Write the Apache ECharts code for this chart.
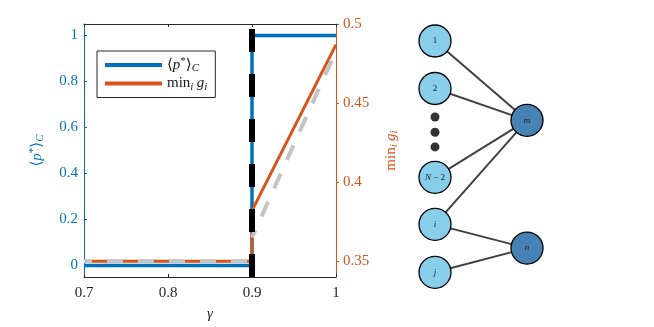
<!DOCTYPE html>
<html>
<head>
<meta charset="utf-8">
<script src="https://cdn.jsdelivr.net/npm/echarts@6/dist/echarts.min.js"></script>
<style>
  html, body { margin: 0; padding: 0; background: #fff; }
  #chart { width: 654px; height: 327px; }
</style>
</head>
<body>
<div id="chart"></div>
<script>
// left panel: step curves vs gamma
const blueX = [0.7, 0.9, 0.9, 1.0];
const blueY = [0, 0, 1, 1];
const orangeX = [0.7, 0.9, 0.9, 1.0];
const orangeY = [0.35, 0.35, 0.382, 0.487];
// gray bound: breaks at 0.9 (no vertical piece)
const grayX = [0.7, 0.9, 0.9, 0.9, 1.0];
const grayY = [0.35, 0.35, "-", 0.365, 0.483];
const critX = [0.9, 0.9];
const critY = [-0.05, 1.05];

const xTicks = [0.7, 0.8, 0.9, 1];
const leftTicks = [0, 0.2, 0.4, 0.6, 0.8, 1];
const rightTicks = [0.35, 0.4, 0.45, 0.5];

// right panel: bipartite sketch (column, row)
const nodeNames = ["1", "2", "N-2", "i", "j", "m", "n"];
const nodeCol = [0, 0, 0, 0, 0, 1, 1];
const nodeRow = [0, 1, 2.87, 3.86, 4.87, 1.67, 4.36];
const nodeDark = [false, false, false, false, false, true, true];
const edges = [["1", "m"], ["2", "m"], ["N-2", "m"], ["i", "m"], ["i", "n"], ["j", "n"]];
const dotRows = [1.6, 1.92, 2.23];

const BLUE = "#0072BD";
const ORANGE = "#D95319";
const SERIF = "'Liberation Serif', 'DejaVu Serif', serif";

function pts(xs, ys) {
  return xs.map((x, i) => [x, ys[i]]);
}

const nodeLabels = {
  "1": "{u|1}",
  "2": "{u|2}",
  "N-2": "{it|N}{u| − 2}",
  "i": "{it|i}",
  "j": "{it|j}",
  "m": "{it|m}",
  "n": "{it|n}"
};

const labelRich = {
  u: { fontFamily: SERIF, fontSize: 9, color: "#1a1a1a" },
  it: { fontFamily: SERIF, fontSize: 9, fontStyle: "italic", color: "#1a1a1a" }
};

const mathRich = function (color, size) {
  return {
    a: { fontFamily: SERIF, fontSize: size, color: color, lineHeight: 18 },
    it: { fontFamily: SERIF, fontSize: size, fontStyle: "italic", color: color, lineHeight: 18 },
    sub: { fontFamily: SERIF, fontSize: size - 4, fontStyle: "italic", color: color, verticalAlign: "bottom", lineHeight: 14 },
    sup: { fontFamily: SERIF, fontSize: size - 4, color: color, verticalAlign: "top", lineHeight: 14 }
  };
};

const pName = "{a|⟨}{it|p}{sup|*}{a|⟩}{sub|C}";
const gName = "{a|min}{sub|i} {it|g}{sub|i}";

let myChart = echarts.init(document.getElementById("chart"));
myChart.setOption({
  animation: false,
  backgroundColor: "#fff",
  grid: [
    { left: 84, top: 24, width: 252, height: 256 },
    { left: 435, top: 41, width: 92, height: 237.5 }
  ],
  legend: {
    orient: "vertical",
    left: 97,
    top: 51,
    padding: [5, 8, 5, 8],
    itemGap: 2,
    itemWidth: 57,
    itemHeight: 4,
    icon: "rect",
    borderColor: "#262626",
    borderWidth: 1,
    backgroundColor: "#fff",
    data: ["p", "g"],
    formatter: function (name) {
      return name === "p" ? pName : gName;
    },
    textStyle: { rich: mathRich("#1a1a1a", 15) }
  },
  xAxis: [
    {
      gridIndex: 0,
      type: "value",
      min: 0.7,
      max: 1,
      name: "γ",
      nameLocation: "middle",
      nameGap: 30,
      nameTextStyle: { fontFamily: SERIF, fontSize: 15, fontStyle: "italic", color: "#262626" },
      axisLine: { onZero: false, lineStyle: { color: "#262626" } },
      axisTick: { inside: true, length: 3, customValues: xTicks, lineStyle: { color: "#262626" } },
      axisLabel: { customValues: xTicks, margin: 9, fontFamily: SERIF, fontSize: 15, color: "#262626", formatter: v => String(v) },
      splitLine: { show: false }
    },
    {
      gridIndex: 0,
      type: "value",
      position: "top",
      min: 0.7,
      max: 1,
      axisLine: { show: true, onZero: false, lineStyle: { color: "#262626" } },
      axisTick: { show: true, inside: true, length: 3, customValues: xTicks, lineStyle: { color: "#262626" } },
      axisLabel: { show: false },
      splitLine: { show: false }
    },
    { gridIndex: 1, type: "value", min: 0, max: 1, show: false }
  ],
  yAxis: [
    {
      gridIndex: 0,
      type: "value",
      min: -0.05,
      max: 1.05,
      name: pName,
      nameLocation: "middle",
      nameRotate: 90,
      nameGap: 38,
      nameTextStyle: { rich: mathRich(BLUE, 15) },
      axisLine: { show: true, onZero: false, lineStyle: { color: BLUE } },
      axisTick: { show: true, inside: true, length: 3, customValues: leftTicks, lineStyle: { color: BLUE } },
      axisLabel: { customValues: leftTicks, margin: 6, fontFamily: SERIF, fontSize: 15, color: BLUE, formatter: v => String(v) },
      splitLine: { show: false }
    },
    {
      gridIndex: 0,
      type: "value",
      position: "right",
      min: 0.34,
      max: 0.5,
      name: gName,
      nameLocation: "middle",
      nameRotate: 90,
      nameGap: 46,
      nameTextStyle: { rich: mathRich(ORANGE, 15) },
      axisLine: { show: true, onZero: false, lineStyle: { color: ORANGE } },
      axisTick: { show: true, inside: false, length: 3, customValues: rightTicks, lineStyle: { color: ORANGE } },
      axisLabel: { customValues: rightTicks, margin: 7, fontFamily: SERIF, fontSize: 15, color: ORANGE, formatter: v => String(v) },
      splitLine: { show: false }
    },
    { gridIndex: 1, type: "value", min: 0, max: 5, inverse: true, show: false }
  ],
  series: [
    {
      name: "p",
      type: "line",
      xAxisIndex: 0,
      yAxisIndex: 0,
      data: pts(blueX, blueY),
      showSymbol: false,
      symbol: "none",
      color: BLUE,
      lineStyle: { color: BLUE, width: 3.5 }
    },
    {
      name: "g",
      type: "line",
      xAxisIndex: 0,
      yAxisIndex: 1,
      data: pts(orangeX, orangeY),
      showSymbol: false,
      symbol: "none",
      color: ORANGE,
      lineStyle: { color: ORANGE, width: 3 }
    },
    {
      name: "gbound",
      type: "line",
      xAxisIndex: 0,
      yAxisIndex: 1,
      data: pts(grayX, grayY),
      connectNulls: false,
      showSymbol: false,
      symbol: "none",
      lineStyle: { color: "#c4c4c4", width: 4, type: [16, 15], dashOffset: 8 }
    },
    {
      name: "crit",
      type: "line",
      xAxisIndex: 0,
      yAxisIndex: 0,
      data: pts(critX, critY),
      showSymbol: false,
      symbol: "none",
      lineStyle: { color: "#000", width: 6, type: [23, 22] }
    },
    {
      name: "edges",
      type: "graph",
      coordinateSystem: "cartesian2d",
      xAxisIndex: 2,
      yAxisIndex: 2,
      symbolSize: 32,
      data: nodeNames.map((n, i) => ({
        name: n,
        value: [nodeCol[i], nodeRow[i]],
        itemStyle: {
          color: nodeDark[i] ? "#4682B4" : "#87CEEB",
          borderColor: "#000",
          borderWidth: 1.3
        }
      })),
      links: edges.map(e => ({ source: e[0], target: e[1] })),
      lineStyle: { color: "#404040", width: 2, opacity: 1 },
      label: {
        show: true,
        position: "inside",
        formatter: p => nodeLabels[p.name],
        rich: labelRich
      },
      emphasis: { disabled: true }
    },
    {
      name: "dots",
      type: "scatter",
      xAxisIndex: 2,
      yAxisIndex: 2,
      symbolSize: 9,
      data: dotRows.map(r => [0, r]),
      itemStyle: { color: "#000" }
    }
  ]
});
</script>
</body>
</html>
